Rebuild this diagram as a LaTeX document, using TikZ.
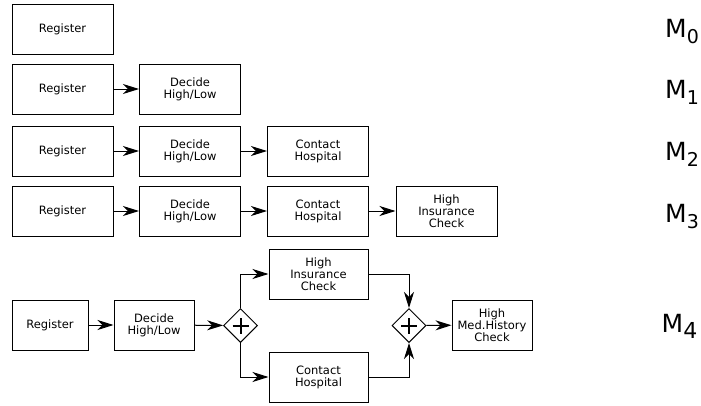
\documentclass[tikz,border=0pt]{standalone}
\usepackage{fontspec}
\setmainfont{DejaVu Sans}
\usetikzlibrary{arrows.meta,shapes.geometric}
\begin{document}
\begin{tikzpicture}[x=1pt,y=-1pt,
  task/.style={draw, line width=1pt, inner sep=0pt, align=center,
    minimum width=101pt, minimum height=50pt,
    font=\fontsize{11.5}{12}\selectfont},
  small/.style={minimum width=#1},
  flow/.style={line width=1pt, -{Stealth[length=16pt,width=10pt,inset=5pt]}},
  gate/.style={draw, diamond, line width=1pt, minimum width=34pt, minimum height=34pt, inner sep=0pt,
    path picture={\draw[line width=2pt] ([xshift=-8pt]path picture bounding box.center) -- ([xshift=8pt]path picture bounding box.center);
                  \draw[line width=2pt] ([yshift=-8pt]path picture bounding box.center) -- ([yshift=8pt]path picture bounding box.center);}},
  mlabel/.style={anchor=base west, inner sep=0pt, font=\fontsize{25}{25}\selectfont}]
\useasboundingbox (0,0) rectangle (701,405);

% M0
\node[task] (r0) at (62.5,29) {Register};
% M1
\node[task] (r1) at (62.5,89) {Register};
\node[task] (d1) at (190,89) {Decide\\High/Low};
% M2
\node[task] (r2) at (62.5,151) {Register};
\node[task] (d2) at (190,151) {Decide\\High/Low};
\node[task] (c2) at (318,151) {Contact\\Hospital};
% M3
\node[task] (r3) at (62.5,211) {Register};
\node[task] (d3) at (190,211) {Decide\\High/Low};
\node[task] (c3) at (318,211) {Contact\\Hospital};
\node[task] (h3) at (446.5,211) {High\\Insurance\\Check};
% M4
\node[task, small=76pt] (r4) at (50,325) {Register};
\node[task, small=80pt] (d4) at (154,325) {Decide\\High/Low};
\node[gate] (g1) at (240.5,325.5) {};
\node[task, small=99pt] (ic4) at (318.5,274) {High\\Insurance\\Check};
\node[task, small=99pt] (ch4) at (318.5,377) {Contact\\Hospital};
\node[gate] (g2) at (409,325.5) {};
\node[task, small=80pt] (hm4) at (492,325) {High\\Med.History\\Check};

\draw[flow] (r1) -- (d1);
\draw[flow] (r2) -- (d2);
\draw[flow] (d2) -- (c2);
\draw[flow] (r3) -- (d3);
\draw[flow] (d3) -- (c3);
\draw[flow] (c3) -- (h3);
\draw[flow] (r4) -- (d4);
\draw[flow] (d4) -- (g1);
\draw[flow] (g1.north) |- (ic4.west);
\draw[flow] (g1.south) |- (ch4.west);
\draw[flow] (ic4.east) -| (g2.north);
\draw[flow] (ch4.east) -| (g2.south);
\draw[flow] (g2) -- (hm4);

\node[mlabel] (m0) at (665,37) {M\raisebox{-6pt}{\fontsize{19}{19}\selectfont 0}};
\node[mlabel] (m1) at (665,98) {M\raisebox{-6pt}{\fontsize{19}{19}\selectfont 1}};
\node[mlabel] (m2) at (665,160) {M\raisebox{-6pt}{\fontsize{19}{19}\selectfont 2}};
\node[mlabel] (m3) at (665,222) {M\raisebox{-6pt}{\fontsize{19}{19}\selectfont 3}};
\node[mlabel] (m4) at (661.5,332) {M\raisebox{-6pt}{\fontsize{22}{22}\selectfont 4}};
\end{tikzpicture}
\end{document}
